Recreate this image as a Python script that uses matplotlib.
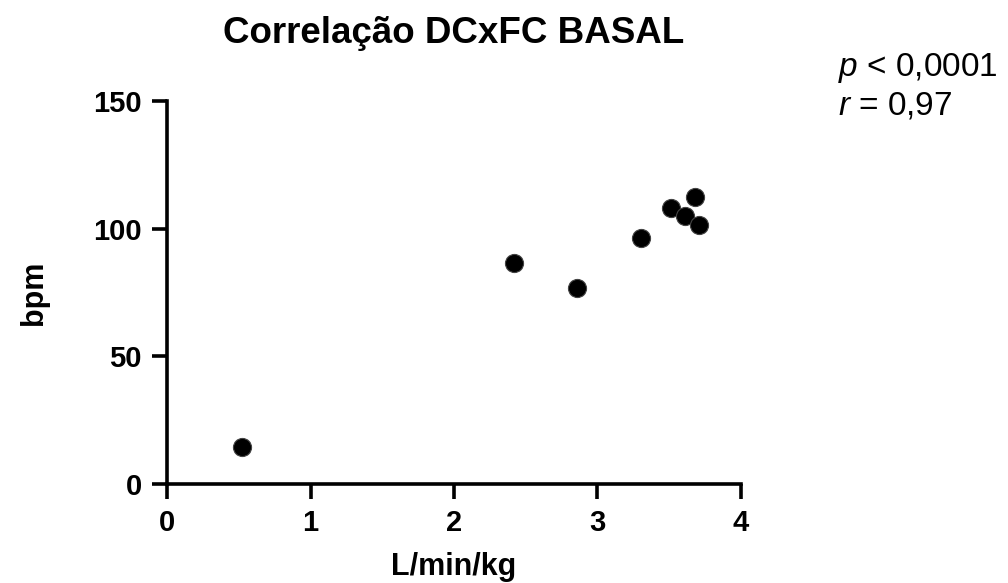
import matplotlib
matplotlib.use("Agg")

import matplotlib.pyplot as plt

# ── Data ──────────────────────────────────────────────────────────────────────
dc_lmin_kg = [0.52, 2.42, 2.86, 3.30, 3.51, 3.61, 3.68, 3.71]
fc_bpm = [14.5, 86.5, 76.8, 96.4, 108.2, 105.0, 112.3, 101.4]

x_ticks = [0, 1, 2, 3, 4]
y_ticks = [0, 50, 100, 150]

plt.rcParams["font.family"] = ["Liberation Sans", "DejaVu Sans"]
plt.rcParams["mathtext.fontset"] = "custom"
plt.rcParams["mathtext.rm"] = "Liberation Sans"
plt.rcParams["mathtext.it"] = "Liberation Sans:italic"

fig = plt.figure(figsize=(10.08, 5.83), dpi=100)
ax = fig.add_axes([0.1657, 0.1698, 0.5694, 0.657])

ax.scatter(dc_lmin_kg, fc_bpm, s=170, color="black", edgecolors="#444444",
           linewidths=0.8, zorder=3, clip_on=False)

ax.set_xlim(0, 4)
ax.set_ylim(0, 150)
ax.set_xticks(x_ticks)
ax.set_yticks(y_ticks)

for side in ("top", "right"):
    ax.spines[side].set_visible(False)
for side in ("left", "bottom"):
    ax.spines[side].set_linewidth(2.6)

ax.tick_params(direction="out", length=11, width=2.6, labelsize=21, pad=7)
for lbl in ax.get_xticklabels() + ax.get_yticklabels():
    lbl.set_fontweight("bold")

ax.set_xlabel("L/min/kg", fontsize=22, fontweight="bold", labelpad=11)
ax.set_ylabel("bpm", fontsize=22, fontweight="bold", labelpad=32)
ax.set_title("Correlação DCxFC BASAL", fontsize=26.5, fontweight="bold", pad=42)

fig.text(0.831, 0.870, r"$\it{p}$ < 0,0001", fontsize=24)
fig.text(0.831, 0.804, r"$\it{r}$ = 0,97", fontsize=24)

fig.savefig("out.png", dpi=100)
